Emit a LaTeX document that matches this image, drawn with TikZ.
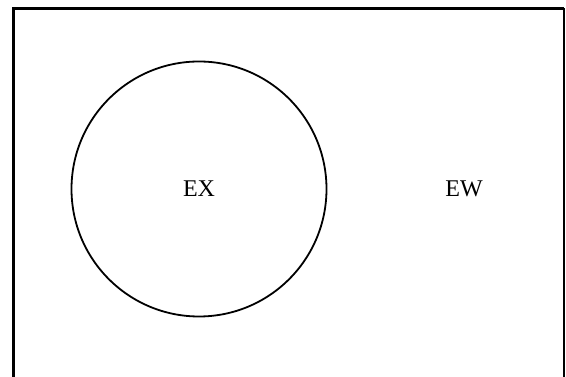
\documentclass[tikz,border=0pt]{standalone}
\usepackage{fontspec}
\setmainfont{Liberation Serif}
\usetikzlibrary{positioning}

\begin{document}
\begin{tikzpicture}[x=1pt,y=1pt,
  conjunto/.style={draw,circle,line width=1.8pt,minimum size=255pt,inner sep=0pt,font=\fontsize{24}{28}\selectfont},
  etiqueta/.style={font=\fontsize{24}{28}\selectfont}]
\useasboundingbox (0,0) rectangle (566,377);
\draw[line width=3pt] (13.5,-2) -- (13.5,368.5) -- (564,368.5);
\draw[line width=2pt] (564,368.5) -- (564,-2);
\node[conjunto] (ex) at (199,188) {EX};
\node[etiqueta] (ew) at (464,188) {EW};
\end{tikzpicture}
\end{document}
